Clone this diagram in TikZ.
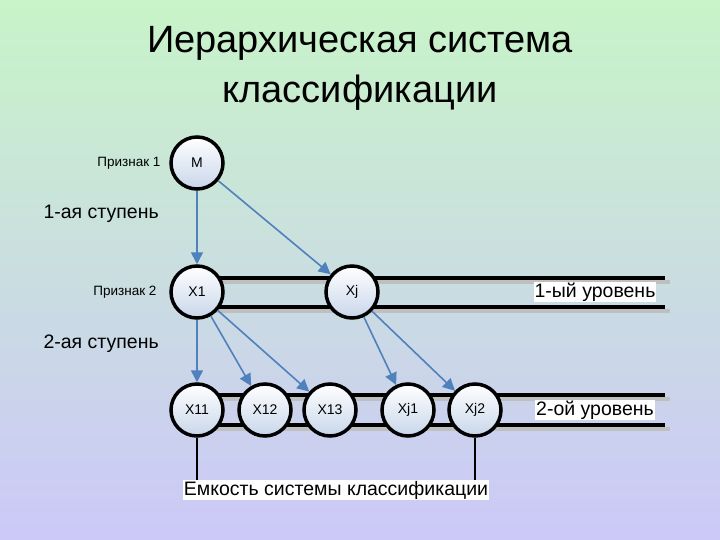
\documentclass[tikz,border=0pt]{standalone}
\usepackage{fontspec}
\setmainfont{Liberation Sans}
\usetikzlibrary{arrows.meta}
\definecolor{arr}{RGB}{79,129,189}
\definecolor{bgtop}{RGB}{200,244,200}
\definecolor{bgbot}{RGB}{204,200,248}
\definecolor{nfill}{RGB}{200,214,234}
\begin{document}
\begin{tikzpicture}[x=1pt,y=-1pt,
  circ/.style={circle,draw=black,line width=3.5pt,minimum size=52pt,inner sep=0pt,
    top color=white,bottom color=nfill,font=\fontsize{14}{16}\selectfont},
  rail/.style={line width=4pt,black},
  sh/.style={line width=4pt,black!25},
  ar/.style={draw=arr,line width=1.6pt,-{Triangle[length=12pt,width=12pt]}},
  lbl/.style={font=\fontsize{19.5}{22}\selectfont},
  sml/.style={font=\fontsize{13.5}{15}\selectfont}]
\fill[top color=bgtop,bottom color=bgbot] (0,0) rectangle (720,540);
\useasboundingbox (0,0) rectangle (720,540);
\node[font=\fontsize{38}{50}\selectfont,align=center] (t) at (360,68) {Иерархическая система\\классификации};
\foreach \y in {278,307,395,425} \draw[sh] (200,\y+4) -- (670,\y+4);
\foreach \y in {278,307,395,425} \draw[rail] (197,\y) -- (665,\y);
\node[circ] (M) at (197,163) {M};
\node[circ] (X1) at (197,292) {X1};
\node[circ] (Xj) at (352,292) {Xj};
\node[circ] (X11) at (197,410) {X11};
\node[circ] (X12) at (265,410) {X12};
\node[circ] (X13) at (330,410) {X13};
\node[circ] (Xj1) at (408,410) {Xj1};
\node[circ] (Xj2) at (475,410) {Xj2};
\draw[ar] (M) -- (X1);
\draw[ar] (M) -- (Xj);
\draw[ar] (X1) -- (X11);
\draw[ar] (X1) -- (X12);
\draw[ar] (X1) -- (X13);
\draw[ar] (Xj) -- (Xj1);
\draw[ar] (Xj) -- (Xj2);
\node[sml,anchor=east] (p1) at (164,163) {Признак 1};
\node[sml,anchor=east] (p2) at (160,292) {Признак 2};
\node[lbl,anchor=west] (s1) at (40,214) {1-ая ступень};
\node[lbl,anchor=west] (s2) at (40,344) {2-ая ступень};
\node[lbl,fill=white,inner sep=1pt] (u1) at (595,292) {1-ый уровень};
\node[lbl,fill=white,inner sep=1pt] (u2) at (595,410) {2-ой уровень};
\node[lbl,fill=white,inner sep=1pt] (e) at (336,490) {Емкость системы классификации};
\coordinate (c1) at (197,480);
\coordinate (c2) at (475,480);
\draw[line width=1.5pt] (X11) -- (c1);
\draw[line width=1.5pt] (Xj2) -- (c2);
\end{tikzpicture}
\end{document}
